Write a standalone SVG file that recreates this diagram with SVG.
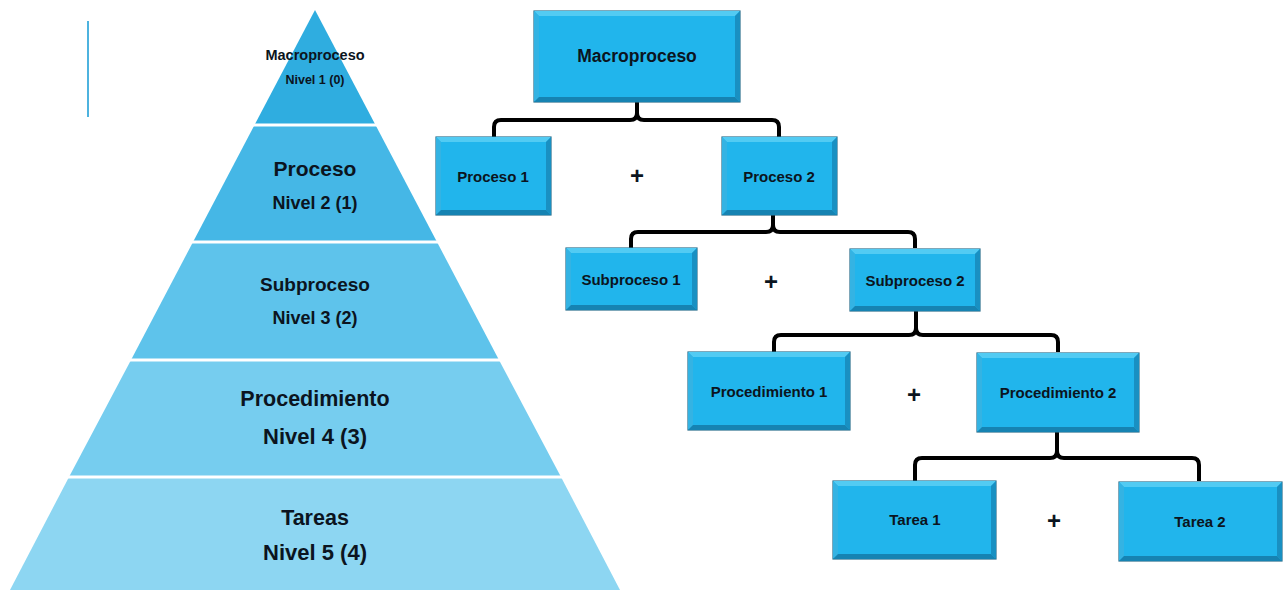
<svg xmlns="http://www.w3.org/2000/svg" width="1284" height="590" viewBox="0 0 1284 590">
<style>
.t{font-family:"Liberation Sans",Arial,sans-serif;font-weight:bold;fill:#0b1420;text-anchor:middle}
.box{fill:#21b5ec;stroke:#2a6e8c;stroke-width:1.2}
.bt{fill:#52cbf3}
.bl{fill:#34b3e3}
.br{fill:#1990c2}
.bb{fill:#1683b2}
.brace{fill:none;stroke:#000;stroke-width:4;stroke-linejoin:round;stroke-linecap:butt}
.sep{stroke:#fff;stroke-width:3}
</style>
<rect width="1284" height="590" fill="#fff"/>
<line x1="88" y1="21" x2="88" y2="117" stroke="#4db3df" stroke-width="2"/>
<g id="pyramid">
<g id="lvl1"><polygon points="315,10 375.5,125 254.5,125" fill="#2fade0"/>
<text class="t" x="315" y="60" font-size="14.5">Macroproceso</text>
<text class="t" x="315" y="84" font-size="12.5">Nivel 1 (0)</text></g>
<g id="lvl2"><polygon points="254.5,125 375.5,125 437,242 193,242" fill="#45b7e6"/>
<text class="t" x="315" y="176" font-size="21">Proceso</text>
<text class="t" x="315" y="209" font-size="18">Nivel 2 (1)</text></g>
<g id="lvl3"><polygon points="193,242 437,242 499,360 131,360" fill="#5ec3eb"/>
<text class="t" x="315" y="291" font-size="19">Subproceso</text>
<text class="t" x="315" y="324" font-size="18">Nivel 3 (2)</text></g>
<g id="lvl4"><polygon points="131,360 499,360 561,477 69,477" fill="#76cdef"/>
<text class="t" x="315" y="406" font-size="21.5">Procedimiento</text>
<text class="t" x="315" y="444" font-size="22">Nivel 4 (3)</text></g>
<g id="lvl5"><polygon points="69,477 561,477 620,590 10,590" fill="#8dd6f2"/>
<text class="t" x="315" y="525" font-size="21.5">Tareas</text>
<text class="t" x="315" y="560" font-size="22">Nivel 5 (4)</text></g>
<line class="sep" x1="240" y1="125" x2="390" y2="125"/>
<line class="sep" x1="180" y1="242" x2="450" y2="242"/>
<line class="sep" x1="120" y1="360" x2="510" y2="360"/>
<line class="sep" x1="60" y1="477" x2="570" y2="477"/>
</g>
<g id="connectors">
<path class="brace" d="M494,137 V127 Q494,120 501,120 H630 Q637,120 637,113 V102 M637,113 Q637,120 644,120 H772 Q779,120 779,127 V137"/>
<path class="brace" d="M631,248 V239 Q631,232 638,232 H766 Q773,232 773,225 V215 M773,225 Q773,232 780,232 H908 Q915,232 915,239 V248"/>
<path class="brace" d="M774,352 V342 Q774,335 781,335 H909 Q916,335 916,328 V311 M916,328 Q916,335 923,335 H1051 Q1058,335 1058,342 V352"/>
<path class="brace" d="M915,481 V465 Q915,458 922,458 H1050 Q1057,458 1057,451 V432 M1057,451 Q1057,458 1064,458 H1192 Q1199,458 1199,465 V481"/>
</g>
<g id="plus">
<text class="t" x="637" y="184" font-size="24">+</text>
<text class="t" x="771" y="290" font-size="24">+</text>
<text class="t" x="914" y="403" font-size="24">+</text>
<text class="t" x="1054" y="529" font-size="24">+</text>
</g>
<g id="n-macro">
<rect class="box" x="534" y="11" width="206" height="91"/>
<polygon class="bt" points="534,11 740,11 735,16 539,16"/>
<polygon class="bl" points="534,11 539,16 539,97 534,102"/>
<polygon class="br" points="740,11 735,16 735,97 740,102"/>
<polygon class="bb" points="534,102 740,102 735,97 539,97"/>
<text class="t" x="637" y="62" font-size="17.5">Macroproceso</text>
</g>
<g id="n-p1">
<rect class="box" x="436" y="137" width="115" height="78"/>
<polygon class="bt" points="436,137 551,137 546,142 441,142"/>
<polygon class="bl" points="436,137 441,142 441,210 436,215"/>
<polygon class="br" points="551,137 546,142 546,210 551,215"/>
<polygon class="bb" points="436,215 551,215 546,210 441,210"/>
<text class="t" x="493" y="182" font-size="15">Proceso 1</text>
</g>
<g id="n-p2">
<rect class="box" x="722" y="137" width="115" height="78"/>
<polygon class="bt" points="722,137 837,137 832,142 727,142"/>
<polygon class="bl" points="722,137 727,142 727,210 722,215"/>
<polygon class="br" points="837,137 832,142 832,210 837,215"/>
<polygon class="bb" points="722,215 837,215 832,210 727,210"/>
<text class="t" x="779" y="182" font-size="15">Proceso 2</text>
</g>
<g id="n-s1">
<rect class="box" x="566" y="248" width="131" height="62"/>
<polygon class="bt" points="566,248 697,248 692,253 571,253"/>
<polygon class="bl" points="566,248 571,253 571,305 566,310"/>
<polygon class="br" points="697,248 692,253 692,305 697,310"/>
<polygon class="bb" points="566,310 697,310 692,305 571,305"/>
<text class="t" x="631" y="285" font-size="15">Subproceso 1</text>
</g>
<g id="n-s2">
<rect class="box" x="850" y="249" width="130" height="62"/>
<polygon class="bt" points="850,249 980,249 975,254 855,254"/>
<polygon class="bl" points="850,249 855,254 855,306 850,311"/>
<polygon class="br" points="980,249 975,254 975,306 980,311"/>
<polygon class="bb" points="850,311 980,311 975,306 855,306"/>
<text class="t" x="915" y="286" font-size="15">Subproceso 2</text>
</g>
<g id="n-pr1">
<rect class="box" x="688" y="352" width="162" height="78"/>
<polygon class="bt" points="688,352 850,352 845,357 693,357"/>
<polygon class="bl" points="688,352 693,357 693,425 688,430"/>
<polygon class="br" points="850,352 845,357 845,425 850,430"/>
<polygon class="bb" points="688,430 850,430 845,425 693,425"/>
<text class="t" x="769" y="397" font-size="15">Procedimiento 1</text>
</g>
<g id="n-pr2">
<rect class="box" x="977" y="353" width="162" height="79"/>
<polygon class="bt" points="977,353 1139,353 1134,358 982,358"/>
<polygon class="bl" points="977,353 982,358 982,427 977,432"/>
<polygon class="br" points="1139,353 1134,358 1134,427 1139,432"/>
<polygon class="bb" points="977,432 1139,432 1134,427 982,427"/>
<text class="t" x="1058" y="398" font-size="15">Procedimiento 2</text>
</g>
<g id="n-t1">
<rect class="box" x="833" y="481" width="163" height="78"/>
<polygon class="bt" points="833,481 996,481 991,486 838,486"/>
<polygon class="bl" points="833,481 838,486 838,554 833,559"/>
<polygon class="br" points="996,481 991,486 991,554 996,559"/>
<polygon class="bb" points="833,559 996,559 991,554 838,554"/>
<text class="t" x="915" y="525" font-size="15">Tarea 1</text>
</g>
<g id="n-t2">
<rect class="box" x="1119" y="482" width="163" height="79"/>
<polygon class="bt" points="1119,482 1282,482 1277,487 1124,487"/>
<polygon class="bl" points="1119,482 1124,487 1124,556 1119,561"/>
<polygon class="br" points="1282,482 1277,487 1277,556 1282,561"/>
<polygon class="bb" points="1119,561 1282,561 1277,556 1124,556"/>
<text class="t" x="1200" y="527" font-size="15">Tarea 2</text>
</g>
</svg>
